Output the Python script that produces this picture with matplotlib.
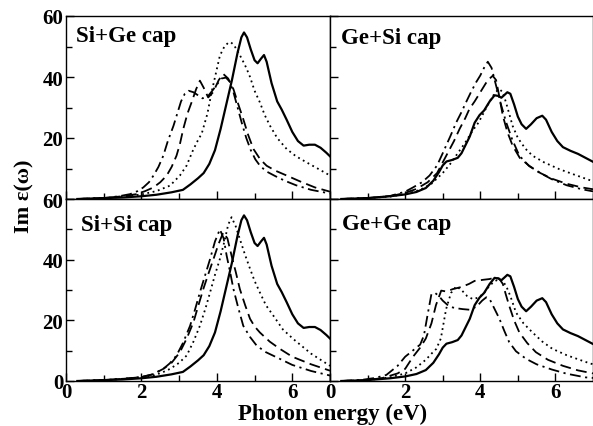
import matplotlib
matplotlib.use("Agg")
import matplotlib.pyplot as plt
from matplotlib.ticker import MultipleLocator, FixedLocator, NullFormatter

# ---- spectra: photon energy (eV) and Im eps ----
# reference bulk-like spectra (solid lines)
si_x = [0.3, 1.0, 1.5, 2.0, 2.4, 2.8, 3.1, 3.3, 3.5, 3.65, 3.8, 3.95, 4.1, 4.25, 4.4, 4.55, 4.65, 4.72,
        4.8, 4.9, 5.0, 5.08, 5.17, 5.25, 5.32, 5.45, 5.6, 5.72, 5.85, 6.0, 6.15, 6.3, 6.45, 6.6, 6.75, 6.9, 7.0]
si_y = [0, 0.3, 0.5, 0.9, 1.4, 2.2, 3.0, 4.8, 6.8, 8.5, 11.5, 16, 23, 31, 39, 48, 53, 54.6,
        53, 49, 45.5, 44.5, 46, 47.2, 45, 38, 32, 29.3, 26, 22, 19, 17.5, 17.8, 17.8, 16.8, 15.2, 14]

ge_x = [0.3, 1.0, 1.6, 2.0, 2.3, 2.55, 2.75, 2.9, 3.0, 3.1, 3.25, 3.4, 3.5, 3.6, 3.72, 3.85, 3.98, 4.1,
        4.25, 4.38, 4.48, 4.56, 4.65, 4.72, 4.8, 4.9, 5.0, 5.1, 5.22, 5.35, 5.5, 5.65, 5.75, 5.9, 6.05,
        6.2, 6.4, 6.6, 6.8, 7.0]
ge_y = [0, 0.3, 0.9, 1.5, 2.3, 3.6, 6, 8.8, 11, 12.3, 12.8, 13.5, 15, 17.5, 20.5, 25, 27.5, 29,
        32, 34, 33.8, 33.2, 34.2, 35, 34.5, 31, 27, 24.5, 23, 24.5, 26.5, 27.3, 26, 22, 19,
        17, 15.8, 14.8, 13.5, 12.2]

# Si+Ge cap
sige_dot_x = [0.3, 1.0, 1.6, 2.0, 2.4, 2.76, 3.02, 3.2, 3.35, 3.47, 3.6, 3.75, 3.86, 3.97, 4.08, 4.2, 4.3,
              4.37, 4.45, 4.55, 4.66, 4.78, 4.88, 5.0, 5.14, 5.27, 5.41, 5.6, 5.85, 6.1, 6.38, 6.7, 7.0]
sige_dot_y = [0, 0.3, 0.8, 1.5, 2.6, 4.4, 7.7, 11, 15.5, 18.6, 21.5, 28, 35, 41, 47, 50, 51.2,
              51.4, 50.5, 48.5, 46, 43, 40, 35.5, 31.7, 27.5, 24, 20, 16.4, 14, 12, 9.8, 7.7]
sige_dash_x = [0.3, 1.0, 1.5, 1.87, 2.1, 2.32, 2.5, 2.67, 2.8, 2.93, 3.02, 3.11, 3.22, 3.33, 3.45, 3.55,
               3.65, 3.77, 3.9, 4.05, 4.17, 4.3, 4.44, 4.57, 4.7, 4.83, 4.97, 5.15, 5.32, 5.55, 5.85,
               6.2, 6.6, 7.0]
sige_dash_y = [0, 0.3, 0.9, 1.6, 2.6, 3.8, 5.5, 7.7, 10.5, 14.2, 18, 23, 28, 31.7, 36, 38.8,
               36.5, 33.3, 35, 39, 41, 39.5, 36, 31, 26.2, 21, 16.4, 13, 10.9, 9.3, 7.7,
               5.8, 3.8, 2.4]
sige_dd_x = [0.3, 1.0, 1.4, 1.7, 1.9, 2.05, 2.2, 2.32, 2.45, 2.58, 2.7, 2.85, 2.95, 3.05, 3.15, 3.25,
             3.38, 3.5, 3.62, 3.75, 3.88, 4.0, 4.12, 4.24, 4.34, 4.44, 4.55, 4.66, 4.78, 4.9, 5.02,
             5.15, 5.32, 5.55, 5.8, 6.1, 6.5, 7.0]
sige_dd_y = [0, 0.3, 0.9, 1.6, 2.6, 3.8, 5.5, 7.7, 10.5, 14.2, 19, 24, 28, 32, 34.5, 35.5,
             35, 34, 33, 33.5, 35.5, 37.5, 39.5, 39.8, 38.5, 35, 30, 25, 20, 16, 13,
             10.8, 9, 7.5, 6, 4.5, 3, 1.8]

# Ge+Si cap
gesi_dot_x = [0.3, 1.0, 1.6, 2.0, 2.4, 2.7, 3.0, 3.2, 3.4, 3.6, 3.8, 3.95, 4.1, 4.25, 4.4, 4.51, 4.6,
              4.7, 4.86, 5.0, 5.2, 5.39, 5.7, 6.1, 6.5, 7.0]
gesi_dot_y = [0, 0.3, 0.8, 1.6, 3.0, 5, 8.5, 11.5, 15, 18.5, 22.5, 25, 28.5, 32, 35, 36, 35,
              31, 24, 20, 16.5, 14.2, 12, 9.8, 8, 5.8]
gesi_dash_x = [0.3, 1.0, 1.6, 2.0, 2.3, 2.6, 2.85, 3.0, 3.15, 3.3, 3.45, 3.6, 3.71, 3.85, 4.0, 4.15,
               4.25, 4.33, 4.42, 4.5, 4.6, 4.72, 4.86, 5.05, 5.3, 5.6, 5.92, 6.3, 6.7, 7.0]
gesi_dash_y = [0, 0.3, 0.9, 2.0, 3.3, 5.5, 8.5, 12, 15.5, 19, 23, 26.5, 29.5, 32, 35, 38,
               39.5, 40.4, 39, 34, 27.3, 22, 17.5, 13.5, 10.9, 8.5, 6.6, 5, 3.8, 3.2]
gesi_dd_x = [0.3, 1.0, 1.6, 2.0, 2.21, 2.45, 2.65, 2.85, 3.0, 3.09, 3.2, 3.36, 3.5, 3.62, 3.75, 3.89,
             4.0, 4.1, 4.2, 4.3, 4.42, 4.55, 4.69, 4.85, 5.04, 5.3, 5.57, 5.9, 6.3, 6.7, 7.0]
gesi_dd_y = [0, 0.3, 1.0, 2.4, 3.8, 5.5, 7.7, 11, 15, 17.5, 20.5, 25.1, 28.5, 31.7, 35, 38.3,
             40.5, 43, 45, 43, 37.2, 31, 25.1, 19.5, 14.2, 10.8, 8.7, 6.5, 4.5, 3.2, 2.5]

# Si+Si cap
sisi_dot_x = [0.3, 1.0, 1.6, 2.0, 2.32, 2.55, 2.76, 3.0, 3.2, 3.38, 3.55, 3.7, 3.82, 3.95, 4.08, 4.2,
              4.3, 4.39, 4.5, 4.61, 4.75, 4.88, 5.0, 5.14, 5.3, 5.5, 5.75, 6.03, 6.5, 7.0]
sisi_dot_y = [0, 0.3, 0.8, 1.3, 1.8, 2.8, 4, 6, 8.4, 13, 18.2, 24, 29.2, 35, 40.2, 46,
              51.5, 54, 51, 46.8, 41.5, 37, 33, 29.2, 25, 21.5, 17, 13.8, 9, 5]
sisi_dash_x = [0.3, 1.0, 1.6, 2.0, 2.3, 2.58, 2.8, 3.02, 3.2, 3.38, 3.5, 3.64, 3.78, 3.91, 4.04, 4.17,
               4.28, 4.39, 4.5, 4.61, 4.75, 4.88, 5.0, 5.14, 5.4, 5.67, 6.0, 6.5, 7.0]
sisi_dash_y = [0, 0.3, 0.8, 1.3, 2.2, 4, 6, 9.5, 14, 19.4, 24.5, 30.3, 35.5, 40.2, 45, 49,
               47, 41.3, 36, 30.3, 25, 20.5, 18, 16, 13, 10.6, 8, 5.5, 3.4]
sisi_dd_x = [0.3, 1.0, 1.6, 2.0, 2.3, 2.58, 2.75, 2.93, 3.1, 3.29, 3.42, 3.55, 3.68, 3.82, 3.95, 4.08,
             4.18, 4.26, 4.35, 4.44, 4.57, 4.7, 4.88, 5.06, 5.3, 5.67, 6.0, 6.5, 7.0]
sisi_dd_y = [0, 0.3, 0.8, 1.3, 2.2, 4, 5.8, 8.4, 12.5, 18.2, 23.5, 29.2, 34.5, 40.2, 46, 50,
             47, 41.3, 36, 30.3, 24, 18.2, 14.5, 11.6, 9.5, 7.3, 5.3, 3.3, 1.8]

# Ge+Ge cap
gege_dot_x = [0.3, 1.0, 1.6, 2.0, 2.3, 2.55, 2.7, 2.83, 2.95, 3.09, 3.22, 3.36, 3.5, 3.65, 3.8, 3.95,
              4.1, 4.25, 4.4, 4.51, 4.6, 4.7, 4.8, 4.95, 5.15, 5.39, 5.65, 5.92, 6.3, 6.8, 7.0]
gege_dot_y = [0, 0.3, 1.2, 2.5, 4.5, 7, 9, 10.6, 14, 23.7, 29, 31.2, 30, 28, 27, 27.5,
              29, 31.5, 33, 33.6, 33, 31, 28, 22.6, 19, 16, 13, 10.6, 8.5, 6.3, 5.5]
gege_dash_x = [0.3, 1.0, 1.4, 1.8, 2.0, 2.21, 2.4, 2.55, 2.7, 2.82, 2.96, 3.1, 3.27, 3.5, 3.7, 3.85,
               3.98, 4.1, 4.24, 4.38, 4.5, 4.6, 4.68, 4.77, 4.9, 5.04, 5.25, 5.48, 5.8, 6.2, 6.6, 7.0]
gege_dash_y = [0, 0.3, 1, 2.5, 4, 8, 11, 14, 19, 25, 29.8, 29.5, 30.3, 31, 32, 33,
               33.2, 33.4, 33.6, 34, 33.8, 32, 28.5, 24.8, 20, 16, 12.5, 9.5, 7, 5, 3.5, 2.5]
gege_dd_x = [0.3, 0.8, 1.2, 1.5, 1.8, 2.0, 2.2, 2.4, 2.5, 2.6, 2.7, 2.8, 2.9, 3.0, 3.18, 3.35,
             3.53, 3.71, 3.9, 4.05, 4.16, 4.25, 4.35, 4.51, 4.64, 4.77, 4.95, 5.22, 5.5, 5.9,
             6.3, 6.8, 7.0]
gege_dd_y = [0, 0.3, 1, 2, 5, 8, 10, 12, 15, 22, 28.7, 29, 28, 26.5, 24.5, 24,
             23.7, 23.5, 24.5, 26.5, 27.6, 27, 24.5, 20.5, 16.5, 12.8, 9.8, 7.3, 5.5, 3.8,
             2.4, 1.2, 1.0]

panel_titles = ["Si+Ge cap", "Ge+Si cap", "Si+Si cap", "Ge+Ge cap"]
panel_data = [
    [(si_x, si_y), (sige_dot_x, sige_dot_y), (sige_dash_x, sige_dash_y), (sige_dd_x, sige_dd_y)],
    [(ge_x, ge_y), (gesi_dot_x, gesi_dot_y), (gesi_dash_x, gesi_dash_y), (gesi_dd_x, gesi_dd_y)],
    [(si_x, si_y), (sisi_dot_x, sisi_dot_y), (sisi_dash_x, sisi_dash_y), (sisi_dd_x, sisi_dd_y)],
    [(ge_x, ge_y), (gege_dot_x, gege_dot_y), (gege_dash_x, gege_dash_y), (gege_dd_x, gege_dd_y)],
]
x_ticks = [0, 2, 4, 6]
y_ticks = [0, 20, 40, 60]

# ---- styling ----
serif_bold = dict(family="Liberation Serif", weight="bold")
styles = [
    dict(linestyle="-", linewidth=1.6),
    dict(linestyle=(0, (1, 2)), linewidth=1.3),
    dict(linestyle=(0, (6, 3)), linewidth=1.3),
    dict(linestyle=(0, (6, 2.5, 1.2, 2.5)), linewidth=1.3),
]

W, H = 593, 427
fig = plt.figure(figsize=(W / 100, H / 100), dpi=100)

x0, xm, x1 = 66, 330, 593
y0, ym, y1 = 17, 200, 382
boxes = [
    (x0, y0, xm, ym), (xm, y0, x1, ym),
    (x0, ym, xm, y1), (xm, ym, x1, y1),
]
title_pos = [(0.036, 0.95), (0.042, 0.94), (0.058, 0.915), (0.046, 0.925)]

for i, (bx0, by0, bx1, by1) in enumerate(boxes):
    ax = fig.add_axes([bx0 / W, 1 - by1 / H, (bx1 - bx0) / W, (by1 - by0) / H])
    for (xs, ys), st in zip(panel_data[i], styles):
        ax.plot(xs, ys, color="black", **st)
    ax.set_xlim(0, 7)
    ax.set_ylim(0, 60)
    ax.xaxis.set_major_locator(FixedLocator(x_ticks))
    ax.xaxis.set_minor_locator(MultipleLocator(1))
    ax.yaxis.set_major_locator(FixedLocator(y_ticks))
    ax.yaxis.set_minor_locator(MultipleLocator(10))
    ax.tick_params(which="both", direction="in", top=False, right=False,
                   labelsize=15, width=1.0)
    ax.tick_params(axis="x", pad=0.5)
    ax.tick_params(axis="y", pad=2)
    ax.tick_params(which="major", length=6)
    ax.tick_params(which="minor", length=4)
    for lab in ax.get_xticklabels() + ax.get_yticklabels():
        lab.set_fontfamily("Liberation Serif")
        lab.set_fontweight("bold")
    for sp in ax.spines.values():
        sp.set_linewidth(1.0)
    row, col = divmod(i, 2)
    if row == 0:
        ax.xaxis.set_major_formatter(NullFormatter())
    if col == 1:
        ax.yaxis.set_major_formatter(NullFormatter())
    elif row == 0:
        ax.set_yticks(y_ticks)
        ax.set_yticklabels(["", "20", "40", "60"], **serif_bold)
    ax.text(title_pos[i][0], title_pos[i][1], panel_titles[i], transform=ax.transAxes,
            ha="left", va="top", fontsize=16.5, **serif_bold)

fig.text(333 / W, 1 - 414 / H, "Photon energy (eV)", ha="center", va="center",
         fontsize=16.5, **serif_bold)
fig.text(24 / W, 1 - 196 / H, "Im ε(ω)", ha="center", va="center", rotation=90,
         fontsize=16, **serif_bold)

fig.savefig("out.png", dpi=100)
